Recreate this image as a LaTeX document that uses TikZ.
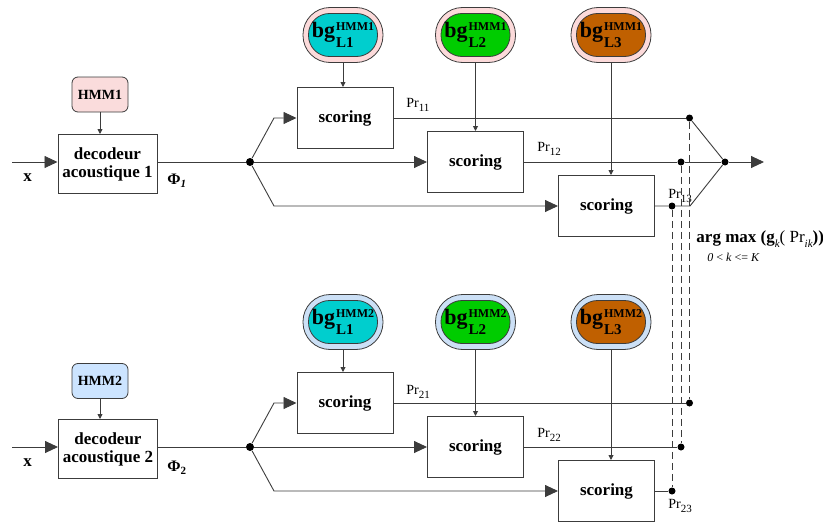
\documentclass[tikz,border=0pt]{standalone}
\usepackage{fontspec}
\setmainfont{Liberation Serif}
\usetikzlibrary{arrows.meta,calc}
\definecolor{cyanf}{RGB}{0,206,206}
\definecolor{greenf}{RGB}{0,204,0}
\definecolor{brownf}{RGB}{192,96,0}
\definecolor{pinkring}{RGB}{252,218,218}
\definecolor{bluering}{RGB}{204,224,246}
\definecolor{hmmpink}{RGB}{250,220,220}
\definecolor{hmmblue}{RGB}{204,228,255}
\definecolor{edge}{RGB}{60,60,60}
\newcommand\bgtext[2]{{\bfseries\fontsize{22}{22}\selectfont bg\kern1pt\rlap{\raisebox{-10pt}{\fontsize{15}{15}\selectfont #2}}\raisebox{7pt}{\fontsize{12}{12}\selectfont #1}}}
\newcommand\prtext[1]{{\fontsize{14}{14}\selectfont Pr\raisebox{-3.5pt}{\fontsize{11}{11}\selectfont #1}}}
\begin{document}
\begin{tikzpicture}[x=1pt,y=-1pt,
  line width=0.9pt, draw=edge,
  scorebox/.style={draw=edge, line width=1pt, fill=white, minimum width=96pt, minimum height=61pt, inner sep=0pt, font=\fontsize{17}{17}\selectfont\bfseries},
  decbox/.style={draw=edge, line width=1pt, fill=white, minimum width=99pt, minimum height=59pt, inner sep=0pt, align=center, font=\fontsize{17}{18}\selectfont\bfseries},
  hmmbox/.style={draw=edge, line width=0.8pt, rounded corners=6pt, minimum width=56pt, minimum height=35pt, inner sep=0pt, font=\fontsize{14}{14}\selectfont\bfseries},
  ring/.style={draw=edge, line width=0.8pt, rounded corners=27pt, minimum width=80pt, minimum height=55pt, inner sep=0pt},
  core/.style={draw=edge, line width=0.8pt, rounded corners=21pt, minimum width=69pt, minimum height=43pt, inner sep=0pt},
  bigarrow/.style={-{Triangle[length=13pt,width=12pt]}},
  smallarrow/.style={-{Triangle[length=5pt,width=5pt]}},
  dot/.style={circle, fill=black, inner sep=0pt, minimum size=8pt},
  lbl/.style={inner sep=0pt, anchor=west}
]
\useasboundingbox (0,0) rectangle (823,522);

% ---------------- top chain ----------------
\node[hmmbox, fill=hmmpink] (hmm1) at (100,94.5) {HMM1};
\node[decbox] (dec1) at (107.5,164) {decodeur\\acoustique 1};
\coordinate (xin1) at (12,162);
\coordinate (j1) at (250,162);
\node[lbl] (x1) at (23,178) {\bfseries\fontsize{17}{17}\selectfont x};
\node[lbl] (phi1) at (167,181) {\bfseries\fontsize{16}{16}\selectfont Φ\raisebox{-3pt}{\fontsize{11}{11}\selectfont\itshape 1}};

\node[scorebox] (s11) at (345,118) {scoring};
\node[scorebox] (s12) at (475.5,162) {scoring};
\node[scorebox] (s13) at (606.5,206) {scoring};

\node[ring, fill=pinkring] (bg11) at (343,35) {};
\node[core, fill=cyanf] (c11) at (bg11) {\bgtext{HMM1}{L1}};
\node[ring, fill=pinkring] (bg12) at (475.5,35) {};
\node[core, fill=greenf] (c12) at (bg12) {\bgtext{HMM1}{L2}};
\node[ring, fill=pinkring] (bg13) at (611,35) {};
\node[core, fill=brownf] (c13) at (bg13) {\bgtext{HMM1}{L3}};

\coordinate (k11) at (274,118);
\coordinate (k13) at (274,206);
\node[dot] (jd1) at (j1) {};

\draw[smallarrow] (hmm1.south) -- (hmm1.south |- dec1.north);
\draw[bigarrow] (xin1) -- (xin1 -| dec1.west);
\draw (j1 -| dec1.east) -- (jd1);
\draw[bigarrow] (jd1) -- (k11) -- (s11.west);
\draw[bigarrow] (jd1) -- (s12.west);
\draw[bigarrow] (jd1) -- (k13) -- (s13.west);
\draw[smallarrow] (bg11.south) -- (bg11.south |- s11.north);
\draw[smallarrow] (bg12.south) -- (bg12.south |- s12.north);
\draw[smallarrow] (bg13.south) -- (bg13.south |- s13.north);

\node[dot, minimum size=7pt] (d11) at (689.5,118) {};
\node[dot, minimum size=7pt] (d12) at (681,162) {};
\node[dot, minimum size=7pt] (d13) at (672,206) {};
\node[dot, minimum size=7pt] (comb) at (725,162) {};
\coordinate (kk13) at (690,206);
\coordinate (out) at (764,162);

\draw (s11.east) -- (d11);
\draw (s12.east) -- (d12) -- (comb);
\draw (s13.east) -- (d13) -- (kk13) -- (comb);
\draw (d11) -- (comb);
\draw[bigarrow] (comb) -- (out);

\node[lbl] (p11) at (406,105) {\prtext{11}};
\node[lbl] (p12) at (537,149) {\prtext{12}};
\node[lbl] (p13) at (668,196) {\prtext{13}};

\node[lbl] (argmax) at (696,239) {\fontsize{17}{17}\selectfont\bfseries arg max (g\raisebox{-4.5pt}{\fontsize{11}{11}\selectfont\mdseries\itshape k}{\mdseries ( Pr}\raisebox{-4.5pt}{\fontsize{11}{11}\selectfont\mdseries\itshape ik}))};
\node[lbl] (argsub) at (707,257) {\fontsize{12}{12}\selectfont\itshape 0 {\upshape <} k {\upshape <=} K};

% ---------------- bottom chain ----------------
\node[hmmbox, fill=hmmblue] (hmm2) at (100,381) {HMM2};
\node[decbox] (dec2) at (108,449) {decodeur\\acoustique 2};
\coordinate (xin2) at (12,447);
\coordinate (j2) at (250,447);
\node[lbl] (x2) at (23,463) {\bfseries\fontsize{17}{17}\selectfont x};
\node[lbl] (phi2) at (167,468) {\bfseries\fontsize{16}{16}\selectfont Φ\raisebox{-3pt}{\fontsize{11}{11}\selectfont 2}};

\node[scorebox] (s21) at (345,403) {scoring};
\node[scorebox] (s22) at (475.5,447) {scoring};
\node[scorebox] (s23) at (606.5,491) {scoring};

\node[ring, fill=bluering] (bg21) at (343,322) {};
\node[core, fill=cyanf] (c21) at (bg21) {\bgtext{HMM2}{L1}};
\node[ring, fill=bluering] (bg22) at (475.5,322) {};
\node[core, fill=greenf] (c22) at (bg22) {\bgtext{HMM2}{L2}};
\node[ring, fill=bluering] (bg23) at (611,322) {};
\node[core, fill=brownf] (c23) at (bg23) {\bgtext{HMM2}{L3}};

\coordinate (k21) at (274,403);
\coordinate (k23) at (274,491);
\node[dot] (jd2) at (j2) {};

\draw[smallarrow] (hmm2.south) -- (hmm2.south |- dec2.north);
\draw[bigarrow] (xin2) -- (xin2 -| dec2.west);
\draw (j2 -| dec2.east) -- (jd2);
\draw[bigarrow] (jd2) -- (k21) -- (s21.west);
\draw[bigarrow] (jd2) -- (s22.west);
\draw[bigarrow] (jd2) -- (k23) -- (s23.west);
\draw[smallarrow] (bg21.south) -- (bg21.south |- s21.north);
\draw[smallarrow] (bg22.south) -- (bg22.south |- s22.north);
\draw[smallarrow] (bg23.south) -- (bg23.south |- s23.north);

\node[dot, minimum size=7pt] (d21) at (689.5,403) {};
\node[dot, minimum size=7pt] (d22) at (681,447) {};
\node[dot, minimum size=7pt] (d23) at (672,491) {};

\draw (s21.east) -- (d21);
\draw (s22.east) -- (d22);
\draw (s23.east) -- (d23);

\node[lbl] (p21) at (406,392) {\prtext{21}};
\node[lbl] (p22) at (537,435) {\prtext{22}};
\node[lbl] (p23) at (668,506) {\prtext{23}};

% ---------------- dashed links ----------------
\draw[dashed, dash pattern=on 7pt off 4pt, line width=0.8pt] (d11) -- (d21);
\draw[dashed, dash pattern=on 7pt off 4pt, line width=0.8pt] (d12) -- (d22);
\draw[dashed, dash pattern=on 7pt off 4pt, line width=0.8pt] (d13) -- (d23);
\end{tikzpicture}
\end{document}
